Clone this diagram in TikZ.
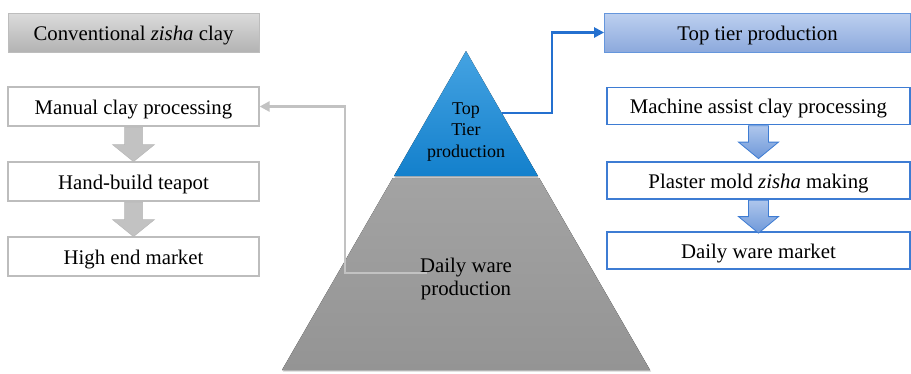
\documentclass[tikz,border=0pt]{standalone}
\usepackage{fontspec}
\setmainfont{Liberation Serif}
\usetikzlibrary{arrows.meta,shadows,calc}
\definecolor{boxblue}{HTML}{3E7CD3}
\definecolor{linkblue}{HTML}{2470CF}
\definecolor{linkgray}{HTML}{C2C2C2}
\definecolor{boxgrayline}{HTML}{BDBDBD}
\definecolor{HTMLb9cdef}{HTML}{BDD0F0}
\definecolor{HTML8eaadc}{HTML}{8CA9DC}
\definecolor{HTMLaec6ec}{HTML}{AEC6EC}
\definecolor{HTML6e98d9}{HTML}{6E98D9}
\definecolor{triTop}{HTML}{45A3E2}
\definecolor{triBot}{HTML}{1380CC}
\definecolor{trapTop}{HTML}{A3A3A3}
\definecolor{trapBot}{HTML}{949494}
\tikzset{
  txt/.style={font=\fontsize{20.8}{24}\selectfont, text height=15.5pt, text depth=0pt},
  graybox/.style={draw=boxgrayline, line width=1.2pt, fill=white, minimum width=251pt, minimum height=39pt, inner sep=0pt, txt},
  bluebox/.style={draw=boxblue, line width=1.2pt, fill=white, minimum width=303pt, minimum height=37pt, inner sep=0pt, txt},
  headgray/.style={draw=boxgrayline, line width=0.8pt, top color=white!86!black, bottom color=white!70!black, minimum width=251pt, minimum height=39pt, inner sep=0pt, txt},
  headblue/.style={draw=boxblue!80, line width=0.8pt, top color=HTMLb9cdef, bottom color=HTML8eaadc, minimum width=306pt, minimum height=39pt, inner sep=0pt, txt},
  garrow/.style={fill=white!76!black, draw=white!72!black, line width=0.5pt},
  barrow/.style={top color=HTMLaec6ec, bottom color=HTML6e98d9, draw=boxblue, line width=0.8pt},
  glink/.style={draw=linkgray, line width=2.6pt, -{Triangle[length=10pt,width=10pt]}},
  blink/.style={draw=linkblue, line width=2.4pt, -{Triangle[length=10pt,width=10pt]}},
}
\begin{document}
\begin{tikzpicture}[x=1pt,y=-1pt]
\useasboundingbox (0,0) rectangle (911,373);
% pyramid
\coordinate (apex) at (466,51);
\coordinate (tl) at (394,176);
\coordinate (tr) at (538,176);
\coordinate (bl) at (282,370);
\coordinate (br) at (650,370);
\coordinate (ml) at (392.8,178);
\coordinate (mr) at (539.2,178);
\fill[top color=trapTop, bottom color=trapBot, drop shadow={shadow xshift=1pt, shadow yshift=-1.5pt, opacity=0.35}] (ml) -- (mr) -- (br) -- (bl) -- cycle;
\fill[top color=triTop, bottom color=triBot, drop shadow={shadow xshift=0.5pt, shadow yshift=-2pt, opacity=0.45}] (apex) -- (tr) -- (tl) -- cycle;
\node[align=center, font=\fontsize{18}{21.5}\selectfont, inner sep=0pt] (toptxt) at (466,132) {Top\\Tier\\production};
\node[align=center, font=\fontsize{20.8}{23}\selectfont, inner sep=0pt] (dailytxt) at (466,279) {Daily ware\\production};
% left column
\node[headgray] (conv) at (133.5,32.5) {Conventional \textit{zisha} clay};
\node[graybox] (manual) at (133.5,106.5) {Manual clay processing};
\node[graybox] (hand) at (133.5,181.5) {Hand-build teapot};
\node[graybox] (high) at (133.5,256.5) {High end market};
\draw[garrow] ($(manual.south)+(-9,0.6)$) -- ++(0,17.4) -- ++(-12,0) -- ++(21,17) -- ++(21,-17) -- ++(-12,0) -- ++(0,-17.4) -- cycle;
\draw[garrow] ($(hand.south)+(-9,0.6)$) -- ++(0,17.4) -- ++(-12,0) -- ++(21,17) -- ++(21,-17) -- ++(-12,0) -- ++(0,-17.4) -- cycle;
% right column
\node[headblue] (toptier) at (757.5,32.5) {Top tier production};
\node[bluebox] (machine) at (758.5,106) {Machine assist clay processing};
\node[bluebox] (plaster) at (758.5,180.5) {Plaster mold \textit{zisha} making};
\node[bluebox] (dailym) at (758.5,250.5) {Daily ware market};
\draw[barrow] ($(machine.south)+(-10,0.6)$) -- ++(0,16.4) -- ++(-10,0) -- ++(20,16.5) -- ++(20,-16.5) -- ++(-10,0) -- ++(0,-16.4) -- cycle;
\draw[barrow] ($(plaster.south)+(-10,0.6)$) -- ++(0,16.4) -- ++(-10,0) -- ++(20,16.5) -- ++(20,-16.5) -- ++(-10,0) -- ++(0,-16.4) -- cycle;
% connectors
\coordinate (bstart) at (501.5,113);
\coordinate (gstart) at (427,273);
\draw[blink] (bstart) -- (552,113) |- (toptier.west);
\draw[glink] (gstart) -- (345,273) |- (manual.east);
\end{tikzpicture}
\end{document}
